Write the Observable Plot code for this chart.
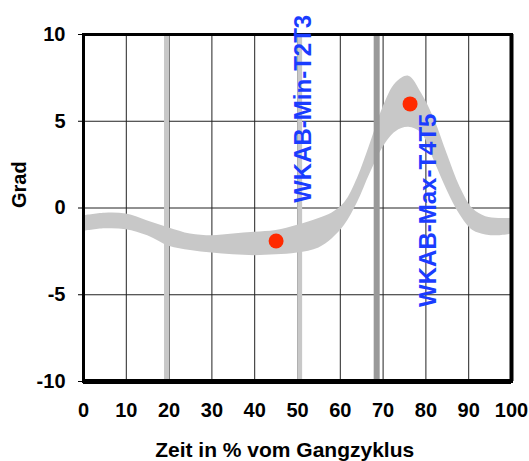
<!DOCTYPE html>
<html>
<head>
<meta charset="utf-8">
<script src="https://cdn.jsdelivr.net/npm/d3@7"></script>
<script src="https://cdn.jsdelivr.net/npm/@observablehq/plot@0.6"></script>
<style>
  html, body { margin: 0; padding: 0; background: #fff; }
  #chart svg { display: block; }
</style>
</head>
<body>
<div id="chart"></div>
<script>
// ---- data ----
const bandX     = [0, 5, 10, 15, 20, 25, 30, 35, 40, 45, 50, 55, 58, 61, 64, 67, 70, 73, 76, 79, 82, 85, 88, 91, 94, 97, 100];
const bandUpper = [-0.45, -0.3, -0.35, -0.75, -1.15, -1.5, -1.6, -1.5, -1.4, -1.3, -1.0, -0.6, -0.3, 0.3, 1.7, 3.7, 5.8, 7.2, 7.6, 6.6, 5.1, 3.1, 1.2, -0.05, -0.5, -0.6, -0.6];
const bandLower = [-1.35, -1.2, -1.25, -1.6, -2.2, -2.45, -2.6, -2.7, -2.75, -2.7, -2.6, -2.3, -1.8, -1.0, 0.3, 2.0, 3.5, 4.4, 4.65, 4.3, 2.7, 1.0, -0.4, -1.3, -1.55, -1.6, -1.5];

const pointX = [45, 76.3];
const pointY = [-1.9, 6.0];

const lightLinesX = [19.4, 50.5];
const darkLinesX  = [68.5];

const annoLabels = ["WKAB-Min-T2T3", "WKAB-Max-T4T5"];
const annoX      = [51.3, 80.5];
const annoY      = [0.3, -5.7];

const xTicks = [0, 10, 20, 30, 40, 50, 60, 70, 80, 90, 100];
const yTicks = [-10, -5, 0, 5, 10];

const xLabel = "Zeit in % vom Gangzyklus";
const yLabel = "Grad";

// ---- tables built from the arrays ----
const band = bandX.map((x, i) => ({x, lo: bandLower[i], hi: bandUpper[i]}));
const points = pointX.map((x, i) => ({x, y: pointY[i]}));
const annos = annoLabels.map((t, i) => ({t, x: annoX[i], y: annoY[i]}));

const FONT = "Liberation Sans, Arial, Helvetica, sans-serif";

const chart = Plot.plot({
  width: 529,
  height: 461,
  marginLeft: 83,
  marginRight: 18,
  marginTop: 34,
  marginBottom: 80,
  style: {fontFamily: FONT, background: "#fff", overflow: "visible"},
  x: {domain: [0, 100], ticks: xTicks},
  y: {domain: [-10, 10], ticks: yTicks},
  marks: [
    // grid
    Plot.ruleX(xTicks, {stroke: "#222", strokeWidth: 1}),
    Plot.ruleY(yTicks, {stroke: "#222", strokeWidth: 1}),
    // SD band
    Plot.areaY(band, {x: "x", y1: "lo", y2: "hi", fill: "#c8c8c8", curve: "catmull-rom"}),
    // vertical markers
    Plot.ruleX(lightLinesX, {stroke: "#c8c8c8", strokeWidth: 5}),
    Plot.ruleX(darkLinesX, {stroke: "#999", strokeWidth: 6}),
    // frame
    Plot.frame({stroke: "#000", strokeWidth: 3}),
    Plot.ruleY([-10], {stroke: "#000", strokeWidth: 5}),
    Plot.ruleX([100], {stroke: "#000", strokeWidth: 4}),
    // axes
    Plot.axisX({ticks: xTicks, tickSize: 0, tickPadding: 21, fontSize: 20, fontWeight: "bold", label: null, tickFormat: d => String(d)}),
    Plot.axisY({ticks: yTicks, tickSize: 5, tickPadding: 13, fontSize: 20, fontWeight: "bold", label: null, tickFormat: d => String(d)}),
    // points
    Plot.dot(points, {x: "x", y: "y", r: 7.5, fill: "#ff2a00", stroke: "none"}),
    // annotations
    Plot.text(annos, {x: "x", y: "y", text: "t", rotate: -90, textAnchor: "start", fill: "#1a3cff", fontSize: 24, fontWeight: "bold"}),
    // axis titles
    Plot.text([xLabel], {x: 47, frameAnchor: "bottom", lineAnchor: "middle", dy: 69, text: d => d, fontSize: 21, fontWeight: "bold", fill: "#000"}),
    Plot.text([yLabel], {frameAnchor: "left", lineAnchor: "middle", dx: -64, rotate: -90, text: d => d, fontSize: 20, fontWeight: "bold", fill: "#000"})
  ]
});
document.getElementById("chart").appendChild(chart);
</script>
</body>
</html>
